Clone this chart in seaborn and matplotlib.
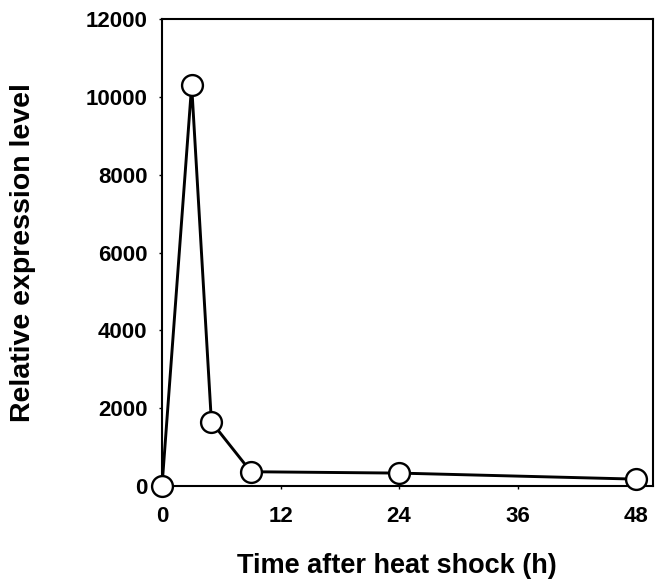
import pandas as pd
import matplotlib
matplotlib.use("Agg")
import matplotlib.pyplot as plt
import seaborn as sns

# values
time_h = [0, 3, 5, 9, 24, 48]
expression = [0, 10300, 1650, 370, 335, 180]
x_ticks = [0, 12, 24, 36, 48]
y_ticks = [0, 2000, 4000, 6000, 8000, 10000, 12000]

df = pd.DataFrame({'time': time_h, 'expr': expression})

sns.set_theme(style='white')
plt.rcParams['font.family'] = ['Liberation Sans', 'DejaVu Sans']
plt.rcParams['font.weight'] = 'bold'
plt.rcParams['text.color'] = 'black'
plt.rcParams['axes.labelcolor'] = 'black'

fig = plt.figure(figsize=(6.57, 5.85), dpi=100)
ax = fig.add_axes([0.2466, 0.169, 0.7473, 0.7985])

sns.lineplot(data=df, x='time', y='expr', ax=ax, color='black', lw=2.1,
             marker='o', markersize=15, markerfacecolor='white',
             markeredgecolor='black', markeredgewidth=1.7, clip_on=False, zorder=5)

ax.set_xlim(0, 49.7)
ax.set_ylim(0, 12000)
ax.set_xticks(x_ticks)
ax.set_yticks(y_ticks)

for side in ['left', 'right', 'top', 'bottom']:
    ax.spines[side].set_color('black')
    ax.spines[side].set_linewidth(1.5)

ax.tick_params(axis='both', direction='out', length=2.5, width=1.0, colors='black',
               labelsize=16)
ax.tick_params(axis='y', left=True, pad=8)
ax.tick_params(axis='x', bottom=True, pad=12)
for lbl in ax.get_xticklabels() + ax.get_yticklabels():
    lbl.set_fontweight('bold')

ax.set_xlabel('Time after heat shock (h)', fontsize=19.5, fontweight='bold', color='black')
ax.set_ylabel('Relative expression level', fontsize=20.5, fontweight='bold', color='black')
ax.xaxis.set_label_coords(0.479, -0.143)
ax.yaxis.set_label_coords(-0.256, 0.5)

fig.savefig('out.png', dpi=100)
